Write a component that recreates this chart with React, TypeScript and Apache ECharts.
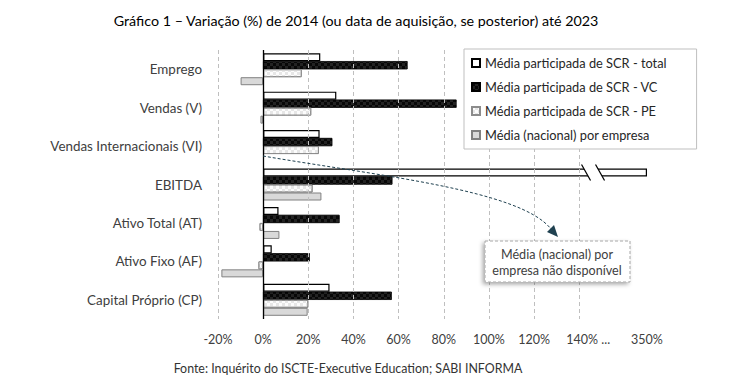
import React, { useEffect, useRef } from "react";
import * as echarts from "echarts";

const categories = [
  "Emprego",
  "Vendas (V)",
  "Vendas Internacionais (VI)",
  "EBITDA",
  "Ativo Total (AT)",
  "Ativo Fixo (AF)",
  "Capital Próprio (CP)",
];
const seriesNames = [
  "Média participada de SCR - total",
  "Média participada de SCR - VC",
  "Média participada de SCR - PE",
  "Média (nacional) por empresa",
];
const totalValues = [25.3, 32.4, 25.0, 350, 6.8, 3.8, 29.4];
const vcValues = [63.9, 85.6, 30.6, 57.2, 33.8, 20.6, 56.9];
const peValues = [17.1, 21.3, 24.7, 21.9, -1.6, -2.1, 20.0];
const nationalValues: (number | null)[] = [-10.0, -1.2, null, 25.8, 7.2, -18.5, 19.7];

const gridTicks = [-20, 0, 20, 40, 60, 80, 100, 120, 140];
const BREAK_AT = 170; // axis position where values beyond the break are drawn
const BREAK_LABEL = "350%";
const BREAK_MARK_A = 143;
const BREAK_MARK_B = 149.2;

const titleText = "Gráfico 1 – Variação (%) de 2014 (ou data de aquisição, se posterior) até 2023";
const sourceText = "Fonte: Inquérito do ISCTE-Executive Education; SABI INFORMA";
const annotationText = "Média (nacional) por\nempresa não disponível";

const toAxis = (v: number | null) => (v == null ? null : v > 160 ? BREAK_AT : v);

export default function App() {
  const ref = useRef<HTMLDivElement>(null);
  useEffect(() => {
    document.body.style.margin = "0";
    const chart = echarts.init(ref.current!, null, { renderer: "svg" });
    const font = "Lato";
    const labelColor = "#404040";

    const baseGraphics: any[] = [
      {
        id: "title",
        type: "text",
        x: 356,
        y: 20,
        style: {
          text: titleText,
          fontFamily: font,
          fontSize: 14.3,
          fill: "#000",
          align: "center",
          verticalAlign: "middle",
        },
      },
      {
        id: "source",
        type: "text",
        x: 348,
        y: 368,
        style: {
          text: sourceText,
          fontFamily: font,
          fontSize: 12.4,
          fill: "#333",
          align: "center",
          verticalAlign: "middle",
        },
      },
      {
        id: "curve",
        type: "bezierCurve",
        z: 20,
        shape: { x1: 263, y1: 156, cpx1: 380, cpy1: 176, cpx2: 520, cpy2: 190, x2: 551, y2: 229 },
        style: { stroke: "#1f4150", lineWidth: 1, lineDash: [3, 2], fill: null },
      },
      {
        id: "arrow",
        type: "polygon",
        z: 20,
        shape: { points: [[558, 237], [547, 232], [554, 225]] },
        style: { fill: "#1f4150" },
      },
      {
        id: "annbox",
        type: "rect",
        z: 20,
        shape: { x: 485, y: 241, width: 145, height: 41 },
        style: {
          fill: "#fff",
          stroke: "#a6a6a6",
          lineWidth: 1,
          lineDash: [3, 2],
          shadowBlur: 4,
          shadowColor: "rgba(0,0,0,0.35)",
          shadowOffsetX: -2,
          shadowOffsetY: 2,
        },
      },
      {
        id: "anntext",
        type: "text",
        z: 21,
        x: 557,
        y: 262,
        style: {
          text: annotationText,
          fontFamily: font,
          fontSize: 12.6,
          lineHeight: 16,
          fill: labelColor,
          align: "center",
          verticalAlign: "middle",
        },
      },
    ];

    const option: any = {
      animation: false,
      textStyle: { fontFamily: font },
      grid: { left: 218, right: 84, top: 50, bottom: 73, containLabel: false },
      legend: {
        data: seriesNames,
        orient: "vertical",
        left: 464,
        top: 49,
        padding: [7, 30, 7, 7],
        itemGap: 10,
        itemWidth: 8,
        itemHeight: 8,
        icon: "rect",
        backgroundColor: "#fff",
        borderColor: "#bfbfbf",
        borderWidth: 1,
        textStyle: { fontFamily: font, fontSize: 12.8, color: "#262626", lineHeight: 14 },
        z: 10,
      },
      xAxis: {
        type: "value",
        min: -20,
        max: BREAK_AT,
        interval: 10,
        axisLine: { show: false },
        axisTick: { show: false },
        splitLine: { show: false },
        axisLabel: {
          margin: 14,
          color: labelColor,
          fontSize: 12.5,
          fontFamily: font,
          formatter: (v: number) => {
            const r = Math.round(v);
            if (r === BREAK_AT) return BREAK_LABEL;
            if (r === 140) return "{p|}140% ...";
            if (gridTicks.includes(r)) return r + "%";
            return "";
          },
          rich: { p: { width: 18 } },
        },
      },
      yAxis: {
        type: "category",
        data: categories,
        inverse: true,
        axisLine: { show: false },
        axisTick: { show: false },
        axisLabel: { margin: 16, color: labelColor, fontSize: 13.4, fontFamily: font },
      },
      series: [
        {
          name: "grid",
          type: "line",
          data: [],
          z: 1,
          silent: true,
          markLine: {
            silent: true,
            symbol: ["none", "none"],
            label: { show: false },
            lineStyle: { type: [4, 3], color: "#bfbfbf", width: 1 },
            data: gridTicks.filter((v) => v !== 0).map((v) => ({ xAxis: v })),
          },
        },
        {
          name: seriesNames[0],
          type: "bar",
          barWidth: 8,
          barGap: "0%",
          data: totalValues.map(toAxis),
          itemStyle: { color: "#fff", borderColor: "#000", borderWidth: 1.2 },
        },
        {
          name: seriesNames[1],
          type: "bar",
          barWidth: 8,
          barGap: "0%",
          data: vcValues.map(toAxis),
          itemStyle: {
            color: "#080808",
            borderColor: "#000",
            borderWidth: 0.5,
            decal: {
              symbol: "rect",
              symbolSize: 1,
              color: "#232323",
              dashArrayX: [[3, 3], [0, 3, 3, 0]],
              dashArrayY: [3, 0],
            },
          },
        },
        {
          name: seriesNames[2],
          type: "bar",
          barWidth: 8,
          barGap: "0%",
          data: peValues.map(toAxis),
          itemStyle: {
            color: "#fcfcfc",
            borderColor: "#8c8c8c",
            borderWidth: 1,
            decal: {
              symbol: "rect",
              symbolSize: 1,
              color: "#e6e6e6",
              dashArrayX: [[3, 3], [0, 3, 3, 0]],
              dashArrayY: [3, 0],
            },
          },
        },
        {
          name: seriesNames[3],
          type: "bar",
          barWidth: 8,
          barGap: "0%",
          data: nationalValues.map(toAxis),
          itemStyle: { color: "#d9d9d9", borderColor: "#808080", borderWidth: 1 },
        },
        {
          name: "zero",
          type: "line",
          data: [],
          z: 5,
          silent: true,
          markLine: {
            silent: true,
            symbol: ["none", "none"],
            label: { show: false },
            lineStyle: { type: "solid", color: "#000", width: 1.3 },
            data: [{ xAxis: 0 }],
          },
        },
      ],
      graphic: baseGraphics,
    };
    chart.setOption(option);

    // break marks on the EBITDA "total" bar
    const ebitdaIdx = categories.indexOf("EBITDA");
    const pa = chart.convertToPixel({ gridIndex: 0 }, [BREAK_MARK_A, ebitdaIdx]) as number[];
    const pb = chart.convertToPixel({ gridIndex: 0 }, [BREAK_MARK_B, ebitdaIdx]) as number[];
    const ym = pa[1] - 12;
    const s = 4.5 / 8;
    const breakGraphics: any[] = [
      {
        id: "brkfill",
        type: "polygon",
        z: 15,
        shape: {
          points: [
            [pa[0] - s * 6, ym - 6],
            [pb[0] - s * 6, ym - 6],
            [pb[0] + s * 6, ym + 6],
            [pa[0] + s * 6, ym + 6],
          ],
        },
        style: { fill: "#fff" },
      },
      {
        id: "brk1",
        type: "line",
        z: 16,
        shape: { x1: pa[0] - 4.5, y1: ym - 8, x2: pa[0] + 4.5, y2: ym + 8 },
        style: { stroke: "#000", lineWidth: 1.2 },
      },
      {
        id: "brk2",
        type: "line",
        z: 16,
        shape: { x1: pb[0] - 4.5, y1: ym - 8, x2: pb[0] + 4.5, y2: ym + 8 },
        style: { stroke: "#000", lineWidth: 1.2 },
      },
    ];
    chart.setOption({ graphic: [...baseGraphics, ...breakGraphics] });

    return () => chart.dispose();
  }, []);
  return <div ref={ref} style={{ width: 731, height: 392 }} />;
}
